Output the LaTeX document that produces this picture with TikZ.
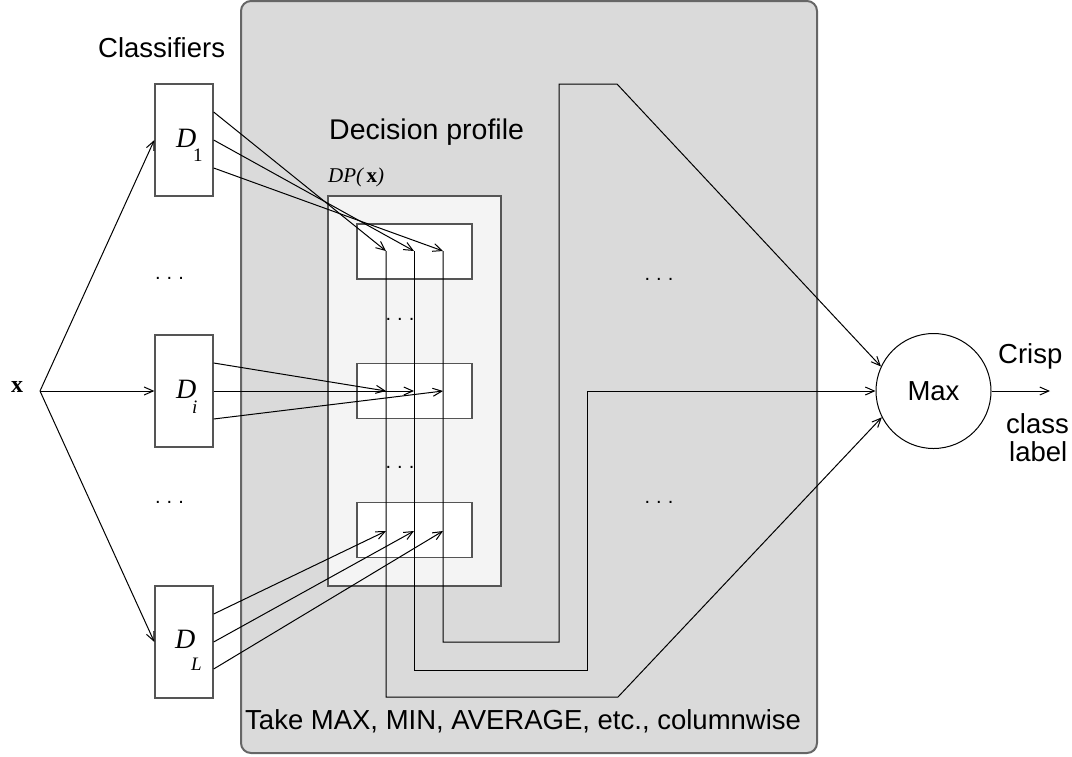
\documentclass[tikz,border=0pt]{standalone}
\usepackage{fontspec}
\setmainfont{Liberation Serif}
\newfontfamily\hv{Liberation Sans}
\usetikzlibrary{arrows.meta,calc}

\definecolor{aggfill}{HTML}{DADADA}
\definecolor{aggline}{HTML}{666666}
\definecolor{dpfill}{HTML}{F4F4F4}
\definecolor{boxline}{HTML}{555555}

\begin{document}
\begin{tikzpicture}[x=1pt,y=-1pt,
  conn/.style={line width=1pt,black},
  arr/.style={conn,-{Straight Barb[length=9pt,width=8pt]}},
  aggbox/.style={draw=aggline,line width=2pt,fill=aggfill,rounded corners=10pt,
    minimum width=576pt,minimum height=752pt,inner sep=0pt},
  dpbox/.style={draw=boxline,line width=1.3pt,fill=dpfill,
    minimum width=173pt,minimum height=390pt,inner sep=0pt},
  rowbox/.style={draw=boxline,line width=1.3pt,fill=white,
    minimum width=115pt,minimum height=55pt,inner sep=0pt},
  clfbox/.style={draw=boxline,line width=1.3pt,fill=white,
    minimum width=58pt,minimum height=112pt,inner sep=0pt},
  combiner/.style={circle,draw=black,line width=1pt,minimum size=115pt,inner sep=0pt,
    font=\hv\fontsize{27.5}{30}\selectfont},
  lbl/.style={anchor=base west,inner sep=0pt,font=\hv\fontsize{27.5}{30}\selectfont},
  dname/.style={anchor=base west,inner sep=0pt,font=\fontsize{28}{30}\selectfont\itshape},
  dsub/.style={anchor=base west,inner sep=0pt,font=\fontsize{19}{22}\selectfont},
  dots/.style={inner sep=0pt,font=\hv\fontsize{20}{22}\selectfont},
]
\useasboundingbox (0,0) rectangle (1072,756);

% combiner area and decision profile
\node[aggbox] (agg) at (529,377) {};
\node[dpbox] (dp) at (414.5,391) {};
\node[rowbox] (r1) at (414.5,251.5) {};
\node[rowbox] (r2) at (414.5,391) {};
\node[rowbox] (r3) at (414.5,530) {};

% classifiers
\node[clfbox] (D1) at (184,140) {};
\node[clfbox] (Di) at (184,391) {};
\node[clfbox] (DL) at (184,642) {};

\node[dname] (D1n) at (176,147) {D};
\node[dsub] (D1s) at (193,161) {1};
\node[dname] (Din) at (176,398) {D};
\node[dsub,font=\fontsize{19}{22}\selectfont\itshape] (Dis) at (192,413) {i};
\node[dname] (DLn) at (175,648) {D};
\node[dsub,font=\fontsize{19}{22}\selectfont\itshape] (DLs) at (191,670) {L};

% combiner output
\node[combiner] (Max) at (933.5,391) {Max};

% texts
\node[anchor=base west,inner sep=0pt,font=\fontsize{24}{26}\selectfont\bfseries] (xin) at (11,392) {x};
\node[lbl] (tclf) at (98,57) {Classifiers};
\node[lbl,font=\hv\fontsize{28.5}{30}\selectfont] (tdp) at (329,139) {Decision profile};
\node[anchor=base west,inner sep=0pt,font=\fontsize{21}{24}\selectfont] (tdpx) at (328,182)
  {\textit{DP(\,}\textbf{x}\textit{)}};
\node[lbl] (ttake) at (245,729) {Take MAX, MIN, AVERAGE, etc., columnwise};
\node[lbl] (tcrisp) at (998,363) {Crisp};
\node[lbl] (tclass) at (1006,433) {class};
\node[lbl] (tlabel) at (1009,461) {label};

% ellipses
\node[dots] (e1) at (169.5,278) {.\hspace{6pt}.\hspace{6pt}.};
\node[dots] (e2) at (169.5,502) {.\hspace{6pt}.\hspace{6pt}.};
\node[dots] (e3) at (400,319) {.\hspace{6pt}.\hspace{6pt}.};
\node[dots] (e4) at (400,467) {.\hspace{6pt}.\hspace{6pt}.};
\node[dots] (e5) at (659,279) {.\hspace{6pt}.\hspace{6pt}.};
\node[dots] (e6) at (659,502) {.\hspace{6pt}.\hspace{6pt}.};

% connection points
\coordinate (xs) at (40,391);
\foreach \r/\y in {1/251,2/391,3/531}{
  \coordinate (t\r1) at (386,\y);
  \coordinate (t\r2) at (414,\y);
  \coordinate (t\r3) at (443,\y);
}
\coordinate (b3) at (559,642);
\coordinate (u3) at (559,84);
\coordinate (v3) at (617,84);
\coordinate (b2) at (587,670);
\coordinate (u2) at (587,391);
\coordinate (b1) at (618,697);
\coordinate (out) at (1050,391);

% input to classifiers
\draw[arr] (xs) -- (D1.west);
\draw[arr] (xs) -- (Di.west);
\draw[arr] (xs) -- (DL.west);

% classifier outputs into the decision profile rows
\draw[arr] ($(D1.east)+(0,-28)$) -- (t11);
\draw[arr] (D1.east) -- (t12);
\draw[arr] ($(D1.east)+(0,28)$) -- (t13);
\draw[arr] ($(Di.east)+(0,-28)$) -- (t21);
\draw[arr] (Di.east) -- (t22);
\draw[arr] ($(Di.east)+(0,28)$) -- (t23);
\draw[arr] ($(DL.east)+(0,-28)$) -- (t31);
\draw[arr] (DL.east) -- (t32);
\draw[arr] ($(DL.east)+(0,27)$) -- (t33);

% columns collected into the combiner
\draw[arr] (t13) |- (b3) -- (u3) -- (v3) -- (Max.155);
\draw[arr] (t12) |- (b2) -- (u2) -- (Max.west);
\draw[arr] (t11) |- (b1) -- (Max.207);
\draw[arr] (Max.east) -- (out);
\end{tikzpicture}
\end{document}
